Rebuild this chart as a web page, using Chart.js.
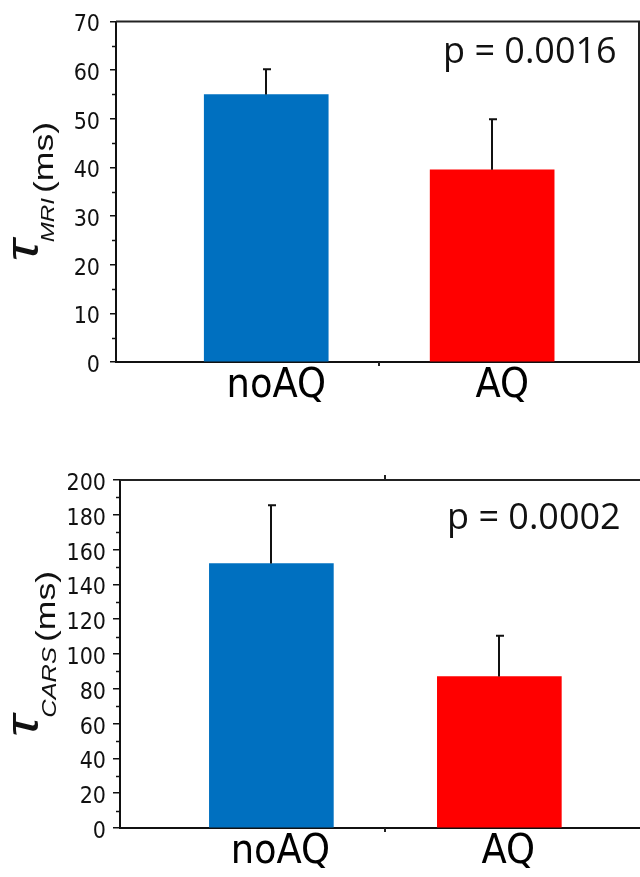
<!DOCTYPE html>
<html>
<head>
<meta charset="utf-8">
<script src="https://cdn.jsdelivr.net/npm/chart.js@4.4.1/dist/chart.umd.min.js"></script>
<style>
  html, body { margin: 0; padding: 0; background: #fff; }
  canvas { display: block; }
</style>
</head>
<body>
<canvas id="mriChart" width="640" height="440"></canvas>
<canvas id="carsChart" width="640" height="437"></canvas>
<script>
const groups = ["noAQ", "AQ"];
const colors = ["#0070C0", "#FF0000"];

const mriMeans = [55, 39.5];
const mriErrors = [5.2, 10.4];
const mriTicks = [0, 10, 20, 30, 40, 50, 60, 70];

const carsMeans = [152, 87];
const carsErrors = [33.5, 23.5];
const carsTicks = [0, 20, 40, 60, 80, 100, 120, 140, 160, 180, 200];

const narrow = '"Liberation Sans Narrow", "DejaVu Sans Condensed", sans-serif';

// error bars (upper half only, small cap)
const errorBars = {
  id: "errorBars",
  afterDatasetsDraw(chart, args, opts) {
    const { ctx, scales: { x, y } } = chart;
    ctx.save();
    ctx.strokeStyle = "#111";
    ctx.lineWidth = 2;
    opts.means.forEach((m, i) => {
      const px = Math.round(x.getPixelForValue(i + 1));
      const y0 = y.getPixelForValue(m);
      const y1 = y.getPixelForValue(m + opts.errors[i]);
      ctx.beginPath();
      ctx.moveTo(px, y0);
      ctx.lineTo(px, y1);
      ctx.moveTo(px - 3, y1);
      ctx.lineTo(px + 5, y1);
      ctx.stroke();
    });
    ctx.restore();
  }
};

// minor ticks, frame lines, p value and the rotated y title
const decorations = {
  id: "decorations",
  afterDraw(chart, args, o) {
    const { ctx, chartArea: a, scales: { x, y } } = chart;
    ctx.save();
    ctx.strokeStyle = "#111";
    ctx.lineWidth = 1.5;
    for (let v = o.minor; v < y.max; v += o.minor * 2) {
      const py = Math.round(y.getPixelForValue(v)) + 0.5;
      ctx.beginPath();
      ctx.moveTo(a.left - 4, py);
      ctx.lineTo(a.left, py);
      ctx.stroke();
    }

    ctx.strokeStyle = "#222";
    ctx.lineWidth = 2;
    ctx.beginPath();
    ctx.moveTo(a.left, a.top);
    ctx.lineTo(a.right, a.top);
    if (o.rightBorder) ctx.lineTo(a.right, a.bottom);
    const mx = Math.round(x.getPixelForValue(1.5));
    ctx.moveTo(mx, a.bottom);
    ctx.lineTo(mx, a.bottom + 4);
    if (o.topTick) {
      ctx.moveTo(mx, a.top);
      ctx.lineTo(mx, a.top - 5);
    }
    ctx.stroke();

    ctx.fillStyle = "#111";
    ctx.font = '36px "Open Sans"';
    ctx.textBaseline = "alphabetic";
    ctx.fillText(o.pText, o.pX, o.pY);

    // y title: tau with subscript, then (ms)
    const tauFont = 'italic 46px "Liberation Sans"';
    const subFont = "italic " + o.subSize + 'px "Liberation Sans"';
    const msFont = '28px "Liberation Sans"';
    ctx.translate(38, (a.top + a.bottom) / 2);
    ctx.rotate(-Math.PI / 2);
    ctx.scale(1.27, 1);
    ctx.font = tauFont;
    const wT = ctx.measureText("τ").width;
    ctx.font = subFont;
    const wS = ctx.measureText(o.sub).width;
    ctx.font = msFont;
    const wM = ctx.measureText("(ms)").width;
    let cx = -(wT + wS + wM + 2) / 2;
    ctx.font = tauFont;
    ctx.fillText("τ", cx, 0);
    cx += wT - 2;
    ctx.font = subFont;
    ctx.fillText(o.sub, cx, o.subDrop);
    cx += wS + 4;
    ctx.font = msFont;
    ctx.fillText("(ms)", cx, o.subDrop - 1);
    ctx.restore();
  }
};

function makeChart(id, means, errors, ticks, cfg) {
  return new Chart(document.getElementById(id), {
    type: "bar",
    data: {
      datasets: [{
        data: means.map((m, i) => ({ x: i + 1, y: m })),
        backgroundColor: colors,
        barThickness: 124,
      }],
    },
    plugins: [errorBars, decorations],
    options: {
      responsive: false,
      animation: false,
      layout: { padding: { top: cfg.top, right: cfg.right, left: 0, bottom: 0 } },
      plugins: {
        legend: { display: false },
        tooltip: { enabled: false },
        errorBars: { means: means, errors: errors },
        decorations: cfg.deco,
      },
      scales: {
        x: {
          type: "linear",
          offset: false,
          min: cfg.xMin,
          max: cfg.xMax,
          afterBuildTicks: s => { s.ticks = [{ value: 1 }, { value: 2 }]; },
          afterFit: s => { s.height = cfg.xHeight; },
          border: { color: "#111", width: 2 },
          grid: { drawOnChartArea: false, drawTicks: true, tickLength: 4, tickColor: "rgba(0,0,0,0)" },
          ticks: {
            autoSkip: false,
            maxRotation: 0,
            padding: 0,
            labelOffset: cfg.labelOffset,
            color: "#000",
            font: { family: narrow, size: 41, lineHeight: 1 },
            callback: v => (v === 1 ? groups[0] : v === 2 ? groups[1] : ""),
          },
        },
        y: {
          min: ticks[0],
          max: ticks[ticks.length - 1],
          afterBuildTicks: s => { s.ticks = ticks.map(v => ({ value: v })); },
          afterFit: s => { s.width = cfg.yWidth; },
          border: { color: "#111", width: 2 },
          grid: { drawOnChartArea: false, tickLength: cfg.tickLen, color: "#111", lineWidth: 1.5 },
          ticks: {
            padding: cfg.tickPad,
            labelOffset: 4,
            color: "#111",
            font: { family: narrow, size: 23, lineHeight: 1 },
          },
        },
      },
    },
  });
}

makeChart("mriChart", mriMeans, mriErrors, mriTicks, {
  top: 13, right: 1, xMin: 0.335, xMax: 2.65, xHeight: 78, yWidth: 116,
  labelOffset: 10, tickLen: 6, tickPad: 10,
  deco: { minor: 5, rightBorder: true, topTick: false, pText: "p = 0.0016", pX: 443, pY: 63,
          sub: "MRI", subSize: 19, subDrop: 16 },
});

makeChart("carsChart", carsMeans, carsErrors, carsTicks, {
  top: 40, right: 0, xMin: 0.336, xMax: 2.617, xHeight: 49, yWidth: 120,
  labelOffset: 9, tickLen: 7, tickPad: 7,
  deco: { minor: 10, rightBorder: false, topTick: true, pText: "p = 0.0002", pX: 447, pY: 89,
          sub: "CARS", subSize: 20, subDrop: 18 },
});
</script>
</body>
</html>
